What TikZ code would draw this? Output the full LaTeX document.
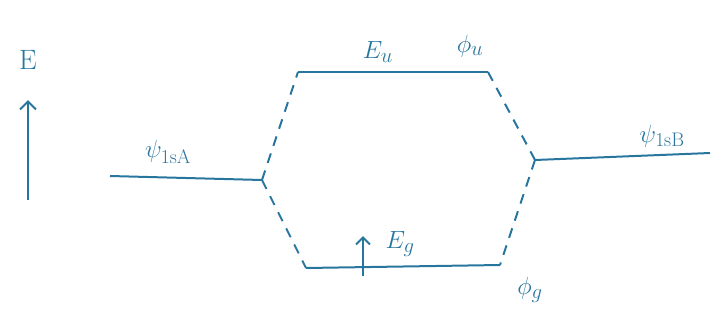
\documentclass[tikz,border=0pt]{standalone}
\usepackage{fontspec}
\usetikzlibrary{arrows.meta}
\definecolor{ink}{RGB}{40,118,158}
\begin{document}
\begin{tikzpicture}[x=1pt,y=-1pt,
  level/.style={draw=ink,line width=2pt},
  corr/.style={draw=ink,line width=2pt,dash pattern=on 10pt off 8pt},
  lbl/.style={text=ink,font=\fontsize{28}{32}\selectfont,inner sep=0pt}]
\useasboundingbox (0,0) rectangle (715,335);
% energy axis
\coordinate (ebot) at (28,200);
\coordinate (etop) at (28,100);
\draw[ink,line width=2pt,-{Straight Barb[length=8pt,width=16pt]}] (ebot) -- (etop);
\node[lbl] (E) at (28,60) {E};
% atomic levels
\coordinate (aL) at (110,176);
\coordinate (aR) at (262,180);
\draw[level] (aL) -- (aR);
\node[lbl] (psiA) at (168,152) {$\psi_{\mathrm{1sA}}$};
\coordinate (bL) at (535,160);
\coordinate (bR) at (710,153);
\draw[level] (bL) -- (bR);
\node[lbl] (psiB) at (662,136) {$\psi_{\mathrm{1sB}}$};
% molecular levels
\coordinate (uL) at (298,72);
\coordinate (uR) at (488,72);
\draw[level] (uL) -- (uR);
\node[lbl] (Eu) at (378,52) {$E_u$};
\node[lbl] (phiu) at (470,46) {$\phi_u$};
\coordinate (gL) at (306,268);
\coordinate (gR) at (500,265);
\draw[level] (gL) -- (gR);
\coordinate (arrb) at (363,276);
\coordinate (arrt) at (363,236);
\draw[ink,line width=2pt,-{Straight Barb[length=7pt,width=14pt]}] (arrb) -- (arrt);
\node[lbl] (Eg) at (400,244) {$E_g$};
\node[lbl] (phig) at (530,290) {$\phi_g$};
% correlation lines
\draw[corr] (aR) -- (uL);
\draw[corr] (aR) -- (gL);
\draw[corr] (uR) -- (bL);
\draw[corr] (bL) -- (gR);
\end{tikzpicture}
\end{document}
